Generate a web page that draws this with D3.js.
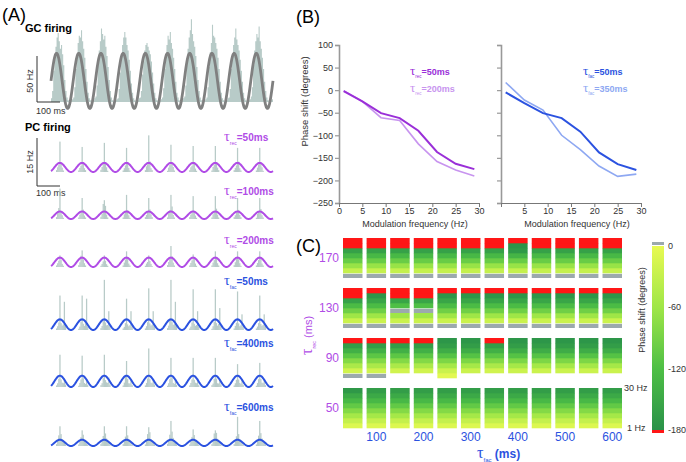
<!DOCTYPE html>
<html>
<head>
<meta charset="utf-8">
<script src="https://cdn.jsdelivr.net/npm/d3@7"></script>
<style>
  body { margin: 0; background: #fff; }
  svg { font-family: Arial, "Liberation Sans", Helvetica, sans-serif; }
</style>
</head>
<body>
<svg id="fig" width="686" height="462"></svg>
<script>
// ---------- data ----------
// GC firing histogram, 5 ms bins over 1 s (Hz)
const gcRate = [
  4,12,34,52,60,70,75,66,58,62,52,40,24,12,5,2,1,1,2,3,
  5,16,36,50,64,72,70,78,66,58,48,36,22,10,4,2,1,1,2,4,
  6,18,40,56,66,80,74,68,72,60,50,38,24,12,5,2,1,1,2,3,
  4,14,32,50,62,70,76,70,62,56,46,34,20,10,4,2,1,1,2,4,
  5,12,30,44,56,62,64,60,56,52,44,32,20,10,4,2,1,1,2,3,
  5,15,36,52,62,72,68,76,64,58,48,36,22,10,5,2,1,1,2,4,
  6,18,42,58,70,78,90,74,66,60,50,38,24,12,5,2,1,1,2,3,
  5,16,38,54,64,84,72,70,64,58,48,36,22,10,4,2,1,1,2,4,
  5,14,36,52,62,70,80,68,62,56,46,34,22,10,4,2,1,1,2,3,
  6,16,40,56,66,74,70,82,66,58,48,36,22,12,5,2,1,1,2,3
];
// PC firing: bins (5 ms) around each cycle's peak, one row per cycle (Hz)
const pcRec50 = [
  [0.6,1.5,2.2,9.7,2.8,1.4,0.5],[0.5,1.3,2.0,8.0,3.2,1.2,0.6],[0.7,1.6,2.5,9.3,2.6,1.5,0.4],
  [0.5,1.2,2.1,7.7,3.0,1.3,0.5],[0.6,1.8,2.4,11.7,3.4,1.2,0.6],[0.4,1.4,2.2,8.7,2.9,1.6,0.5],
  [0.6,1.5,2.0,8.3,3.1,1.1,0.4],[0.5,1.6,2.3,8.3,2.7,1.4,0.6],[0.6,1.3,2.1,7.7,3.3,1.2,0.5],
  [0.5,1.4,2.4,7.7,2.8,1.5,0.4]
];
const pcRec100 = [
  [0.6,1.8,3.5,9.7,2.4,1.2,0.4],[0.5,1.4,2.2,6.7,3.0,1.1,0.5],[0.7,1.6,4.8,6.0,4.2,1.4,0.5],
  [0.5,1.5,2.6,7.7,2.8,1.2,0.4],[0.6,1.3,2.3,6.7,3.1,1.5,0.6],[0.5,1.7,2.8,7.7,4.0,1.3,0.5],
  [0.6,1.4,2.1,7.3,2.6,1.1,0.4],[0.5,1.5,2.5,7.3,3.3,1.4,0.5],[0.6,1.2,2.2,6.7,2.9,1.3,0.6],
  [0.4,1.6,2.4,6.7,3.2,1.2,0.5]
];
const pcRec200 = [
  [0.5,1.2,2.0,3.7,2.2,1.0,0.4],[0.6,1.5,3.6,5.3,2.4,1.2,0.5],[0.4,1.0,1.8,3.7,2.0,0.9,0.4],
  [0.5,1.4,2.4,5.0,3.0,1.1,0.5],[0.4,1.1,1.6,3.7,1.9,1.0,0.3],[0.6,1.6,3.2,6.7,3.4,1.4,0.5],
  [0.5,1.3,2.1,4.0,2.6,1.1,0.4],[0.5,1.4,2.2,5.0,2.8,1.2,0.5],[0.6,1.5,2.6,5.0,2.5,1.2,0.4],
  [0.5,1.3,2.2,5.0,2.9,1.1,0.5]
];
const pcFac50 = [
  [0.5,1.2,2.4,11.0,2.2,1.4,1.8,9.0,1.2],[0.4,1.1,2.6,11.0,2.0,1.3,2.2,10.0,1.0],
  [0.6,1.3,2.8,16.0,2.4,1.5,1.6,6.0,1.2],[0.5,1.0,2.2,10.0,1.8,1.2,1.5,6.0,1.0],
  [0.5,1.2,2.5,13.3,2.1,1.4,1.7,6.0,1.1],[0.6,1.4,2.9,16.0,2.5,1.6,2.0,9.0,1.3],
  [0.5,1.1,2.4,13.0,2.0,1.3,1.6,6.0,1.0],[0.4,1.2,2.6,13.0,2.2,1.4,1.9,7.0,1.1],
  [0.5,1.3,2.3,12.3,2.1,1.2,1.5,5.0,1.0],[0.5,1.1,2.2,11.0,1.9,1.3,1.6,5.0,1.2]
];
const pcFac400 = [
  [0.5,1.2,2.6,10.3,2.4,1.4,1.2,2.8,0.8],[0.4,1.3,2.4,10.0,2.8,1.3,1.0,2.4,0.7],
  [0.6,1.2,2.8,10.3,2.2,1.5,1.3,3.0,0.8],[0.5,1.4,3.6,8.3,2.6,1.2,1.1,2.2,0.6],
  [0.5,1.3,2.7,12.3,2.5,1.4,1.2,2.6,0.8],[0.4,1.2,2.5,9.3,2.9,1.3,1.0,2.4,0.7],
  [0.5,1.3,2.4,9.3,2.3,1.4,1.2,2.8,0.6],[0.6,1.1,2.6,9.3,2.7,1.2,1.1,2.3,0.8],
  [0.5,1.2,2.3,7.3,2.4,1.3,1.0,2.5,0.7],[0.4,1.3,2.5,7.7,2.6,1.4,1.2,2.2,0.6]
];
const pcFac600 = [
  [0.6,1.6,3.4,6.3,3.8,2.2,1.4,1.0,0.5],[0.5,1.4,2.8,5.0,3.6,2.0,1.2,0.8,0.4],
  [0.7,1.8,3.2,6.3,4.0,2.4,1.5,1.0,0.5],[0.6,1.5,3.0,6.3,3.4,2.1,1.3,0.9,0.4],
  [0.5,1.6,3.8,6.0,4.4,2.2,1.4,1.0,0.5],[0.7,1.9,3.6,8.0,4.6,2.6,1.6,1.1,0.5],
  [0.5,1.4,2.9,5.3,3.5,2.0,1.3,0.9,0.4],[0.6,1.7,4.0,5.0,4.2,2.3,1.4,1.0,0.5],
  [0.6,1.5,3.1,9.3,3.8,2.1,1.3,0.9,0.4],[0.5,1.6,3.3,8.0,4.1,2.4,1.5,1.0,0.5]
];
// modulation sinusoids (Hz)
const gcSine = { mean: 23, amp: 30, peakMs: 25 };
const pcSineAmp = [1.45, 1.2, 1.5, 1.7, 1.8, 1.0];
const pcPeakMs = 40;

// panel B: phase shift vs modulation frequency
const modFreq = [1, 5, 9, 13, 17, 21, 25, 29];
const shiftRec50 = [-2, -25, -51, -62, -90, -137, -163, -175];
const shiftRec200 = [-1, -25, -61, -67, -119, -158, -177, -190];
const shiftFac50 = [-5, -29, -51, -62, -92, -138, -164, -177];
const shiftFac350 = [17, -22, -44, -100, -132, -168, -191, -186];
const yTicksB = [100, 50, 0, -50, -100, -150, -200, -250];
const xTicksB = [0, 5, 10, 15, 20, 25, 30];

// panel C: phase shift (deg) per block, cells 1 Hz -> 29 Hz
// > 0 grey, < -180 red, null = no value
const tauRec = [170, 130, 90, 50];
const tauFac = [50, 100, 150, 200, 250, 300, 350, 400, 450, 500, 550, 600];
const cellFreq = [1, 5, 9, 13, 17, 21, 25, 29];
const heat170 = [
  [8,-30,-65,-100,-130,-160,-195,-210],[8,-30,-65,-100,-130,-160,-195,-210],
  [8,-30,-65,-100,-130,-160,-195,-210],[8,-30,-65,-100,-130,-160,-195,-210],
  [8,-30,-65,-100,-130,-160,-195,-210],[8,-30,-65,-100,-130,-160,-195,-210],
  [8,-30,-65,-100,-130,-160,-195,-210],[8,-30,-65,-100,-135,-170,-178,-200],
  [8,-30,-65,-100,-130,-160,-195,-210],[8,-30,-65,-100,-130,-160,-195,-210],
  [8,-30,-65,-100,-130,-160,-195,-210],[8,-30,-65,-100,-130,-160,-195,-210]
];
const heat130 = [
  [8,-25,-60,-95,-125,-160,-190,-205],[8,-25,-60,-95,-125,-155,-175,-200],
  [8,-25,-60,5,-120,-155,-190,-205],[8,-25,-60,5,-120,-155,-190,-205],
  [8,-25,-60,-95,-125,-155,-175,-200],[8,-25,-60,-95,-125,-155,-175,-200],
  [8,-25,-60,-95,-125,-155,-175,-200],[8,-25,-60,-95,-125,-155,-175,-200],
  [8,-25,-60,-95,-125,-155,-175,-200],[8,-25,-60,-95,-125,-155,-175,-200],
  [8,-25,-60,-95,-125,-155,-175,-200],[8,-25,-60,-95,-125,-155,-175,-200]
];
const heat90 = [
  [8,-20,-50,-80,-110,-140,-165,-195],[8,-20,-50,-80,-110,-140,-165,-195],
  [null,-20,-50,-80,-110,-140,-165,-195],[null,-20,-50,-80,-110,-140,-165,-195],
  [-5,-25,-55,-85,-115,-145,-165,-175],[null,-25,-55,-85,-115,-145,-165,-175],
  [null,-20,-50,-80,-110,-140,-165,-195],[null,-25,-55,-85,-115,-145,-165,-175],
  [null,-25,-55,-85,-115,-145,-165,-175],[null,-25,-55,-85,-115,-145,-165,-175],
  [null,-25,-55,-85,-115,-145,-165,-175],[null,-25,-55,-85,-115,-145,-165,-175]
];
const heat50 = [
  [-10,-30,-55,-80,-105,-130,-150,-172],[-10,-30,-55,-80,-105,-130,-150,-165],
  [-10,-30,-55,-80,-105,-130,-150,-165],[-10,-30,-55,-80,-105,-130,-150,-165],
  [-10,-30,-55,-80,-105,-130,-150,-165],[-10,-30,-55,-80,-105,-130,-150,-165],
  [-10,-30,-55,-80,-105,-130,-150,-165],[-10,-30,-55,-80,-105,-130,-150,-165],
  [-10,-30,-55,-80,-105,-130,-150,-165],[-10,-30,-55,-80,-105,-130,-150,-165],
  [-10,-30,-55,-80,-105,-130,-150,-165],[-10,-30,-55,-80,-105,-130,-150,-165]
];
const colorTicks = [0, -60, -120, -180];

// ---------- colours ----------
const purple = "#b04ce6", purpleDark = "#9a2fd8", purpleLight = "#c894ef";
const blue = "#2b52e0", blueLight = "#8ea8f2";
const histFill = "#b8cbc8";
const redCell = "#ff1616", greyCell = "#9ca9ad";

const svg = d3.select("#fig");

// tau with subscript
function tauText(g, x, y, sub, rest, color, size, opts) {
  opts = opts || {};
  const t = g.append("text").attr("x", x).attr("y", y).attr("fill", color)
    .style("font-size", size + "px");
  if (opts.rotate) t.attr("transform", "rotate(-90," + x + "," + y + ")");
  if (opts.anchor) t.attr("text-anchor", opts.anchor);
  t.append("tspan").text("τ").style("font-family", "'Liberation Serif', 'DejaVu Serif', serif")
    .style("font-size", size * (opts.tauScale || 1.45) + "px");
  t.append("tspan").text(sub).attr("dy", size * 0.35).style("font-size", size * 0.5 + "px");
  t.append("tspan").text(rest).attr("dy", -size * 0.35)
    .style("font-weight", opts.bold === false ? "normal" : "bold");
  return t;
}

// ---------- panel A ----------
const gA = svg.append("g");
gA.append("text").attr("x", 2).attr("y", 21).style("font-size", "18px").text("(A)");
gA.append("text").attr("x", 25).attr("y", 32).style("font-size", "11px")
  .style("font-weight", "bold").text("GC firing");
gA.append("text").attr("x", 25).attr("y", 131).style("font-size", "11px")
  .style("font-weight", "bold").text("PC firing");

const binMs = 5;
const tx = d3.scaleLinear().domain([0, 1000]).range([51, 273]);
const gcY = d3.scaleLinear().domain([0, 50]).range([102, 56]);

gA.append("path")
  .datum(gcRate.concat([0]))
  .attr("d", d3.area().curve(d3.curveStepAfter)
    .x((d, i) => tx(i * binMs)).y0(gcY(0)).y1((d) => gcY(d)))
  .attr("fill", histFill);

const tSamples = d3.range(0, 1001, 2);
gA.append("path")
  .datum(tSamples)
  .attr("d", d3.line()
    .x((t) => tx(t))
    .y((t) => gcY(gcSine.mean + gcSine.amp * Math.cos(2 * Math.PI * (t - gcSine.peakMs) / 100))))
  .attr("fill", "none").attr("stroke", "#808080").attr("stroke-width", 2.8);

// scale bars
function scaleBar(y0, y1, lab, labY, msY) {
  gA.append("path").attr("d", `M37,${y0}V${y1}H60`).attr("fill", "none")
    .attr("stroke", "#333").attr("stroke-width", 1);
  gA.append("text").attr("transform", `translate(33,${labY}) rotate(-90)`)
    .attr("text-anchor", "middle").style("font-size", "9px").attr("fill", "#333").text(lab);
  gA.append("text").attr("x", 36).attr("y", msY).style("font-size", "9px")
    .attr("fill", "#333").text("100 ms");
}
scaleBar(56, 102, "50 Hz", 81, 114);
scaleBar(138, 186, "15 Hz", 162, 196);

const pcTraces = [
  { bins: pcRec50, color: purple, base: 172, sub: "rec", rest: "=50ms", ly: 141 },
  { bins: pcRec100, color: purple, base: 219, sub: "rec", rest: "=100ms", ly: 195 },
  { bins: pcRec200, color: purple, base: 267, sub: "rec", rest: "=200ms", ly: 244 },
  { bins: pcFac50, color: blue, base: 330, sub: "fac", rest: "=50ms", ly: 285 },
  { bins: pcFac400, color: blue, base: 387, sub: "fac", rest: "=400ms", ly: 347 },
  { bins: pcFac600, color: blue, base: 446, sub: "fac", rest: "=600ms", ly: 411 }
];

pcTraces.forEach((tr, ti) => {
  const y = d3.scaleLinear().domain([0, 15]).range([tr.base, tr.base - 47]);
  const g = gA.append("g");
  const rects = [];
  tr.bins.forEach((row, k) => {
    row.forEach((v, j) => {
      rects.push({ t: 100 * k + pcPeakMs - binMs / 2 + (j - 3) * binMs, v: v });
    });
  });
  g.selectAll("rect").data(rects).join("rect")
    .attr("x", (d) => tx(d.t))
    .attr("width", tx(binMs) - tx(0) + 0.15)
    .attr("y", (d) => y(d.v))
    .attr("height", (d) => y(0) - y(d.v))
    .attr("fill", histFill);
  const a = pcSineAmp[ti];
  g.append("path").datum(tSamples)
    .attr("d", d3.line().x((t) => tx(t))
      .y((t) => y(a + a * Math.cos(2 * Math.PI * (t - pcPeakMs) / 100))))
    .attr("fill", "none").attr("stroke", tr.color).attr("stroke-width", 2);
  tauText(gA, 224, tr.ly, tr.sub, tr.rest, tr.color, 10);
});

// ---------- panel B ----------
const gB = svg.append("g");
gB.append("text").attr("x", 296).attr("y", 23).style("font-size", "18px").text("(B)");
const py = d3.scaleLinear().domain([-250, 100]).range([203, 45]);

function phasePlot(x0, x1, showY, series, legend, legX) {
  const fx = d3.scaleLinear().domain([0, 30]).range([x0, x1]);
  const g = gB.append("g");
  const yAx = g.append("g").attr("transform", `translate(${x0},0)`)
    .call(d3.axisLeft(py).tickValues(yTicksB).tickSize(4).tickFormat(showY ? d3.format("d") : ""));
  yAx.select(".domain").attr("stroke", "#999").attr("stroke-width", 1.6);
  yAx.selectAll(".tick line").attr("stroke", "#999").attr("stroke-width", 1.2);
  yAx.selectAll(".tick text").attr("fill", "#333").style("font-size", "9px")
    .style("font-family", "Arial, 'Liberation Sans', sans-serif").attr("x", -6);
  const xAx = g.append("g").attr("transform", `translate(0,${py(-250)})`)
    .call(d3.axisBottom(fx).tickValues(xTicksB).tickSize(4).tickPadding(1)
      .tickFormat((d) => (!showY && d === 0) ? "" : d));
  xAx.select(".domain").attr("stroke", "#777").attr("stroke-width", 1);
  xAx.selectAll(".tick line").attr("stroke", "#777");
  xAx.selectAll(".tick text").attr("fill", "#333").style("font-size", "9px")
    .style("font-family", "Arial, 'Liberation Sans', sans-serif");
  g.append("text").attr("x", (x0 + x1) / 2 + 6).attr("y", 227).attr("text-anchor", "middle")
    .style("font-size", "9px").attr("fill", "#333").text("Modulation frequency (Hz)");
  const line = d3.line().x((d, i) => fx(modFreq[i])).y((d) => py(d));
  series.forEach((s) => {
    g.append("path").datum(s.values).attr("d", line).attr("fill", "none")
      .attr("stroke", s.color).attr("stroke-width", s.w);
  });
  legend.forEach((l, i) => {
    tauText(g, legX, 75 + i * 17, l.sub, l.rest, l.color, 9);
  });
}

phasePlot(339, 479, true,
  [{ values: shiftRec200, color: purpleLight, w: 1.6 }, { values: shiftRec50, color: purpleDark, w: 2 }],
  [{ sub: "rec", rest: "=50ms", color: purpleDark }, { sub: "rec", rest: "=200ms", color: purpleLight }], 410);
phasePlot(501, 641, false,
  [{ values: shiftFac350, color: blueLight, w: 1.6 }, { values: shiftFac50, color: blue, w: 2 }],
  [{ sub: "fac", rest: "=50ms", color: blue }, { sub: "fac", rest: "=350ms", color: blueLight }], 583);

gB.append("text").attr("transform", `translate(308,${py(-25)}) rotate(-90)`)
  .attr("text-anchor", "middle").style("font-size", "9.5px").attr("fill", "#333")
  .text("Phase shift (degrees)");

// ---------- panel C ----------
const gC = svg.append("g");
gC.append("text").attr("x", 296).attr("y", 252).style("font-size", "18px").text("(C)");

const colX = d3.scaleBand().domain(tauFac).range([343, 622]).paddingInner(0.174).paddingOuter(0);
const rowY = d3.scaleBand().domain(tauRec).range([238, 428]).paddingInner(0.2).paddingOuter(0);
const cellY = d3.scaleBand().domain(cellFreq.slice().reverse()).range([0, rowY.bandwidth()]);
const phaseColor = d3.scaleLinear().domain([-180, -120, -60, 0])
  .range(["#2a9249", "#4ebf45", "#9fe647", "#e8fa52"]);

const heatRows = [heat170, heat130, heat90, heat50];
const cells = [];
heatRows.forEach((rows, ri) => {
  rows.forEach((vals, ci) => {
    vals.forEach((v, fi) => {
      if (v === null) return;
      cells.push({ rec: tauRec[ri], fac: tauFac[ci], f: cellFreq[fi], v: v });
    });
  });
});
gC.selectAll("rect.cell").data(cells).join("rect")
  .attr("class", "cell")
  .attr("x", (d) => colX(d.fac))
  .attr("width", colX.bandwidth())
  .attr("y", (d) => rowY(d.rec) + cellY(d.f) + (d.v > 0 ? 0.8 : 0))
  .attr("height", (d) => cellY.bandwidth() + (d.v > 0 ? -0.8 : 0.3))
  .attr("fill", (d) => d.v > 0 ? greyCell : d.v < -180 ? redCell : phaseColor(d.v));

// row labels
gC.selectAll("text.rowlab").data(tauRec).join("text")
  .attr("class", "rowlab")
  .attr("x", 339).attr("y", (d) => rowY(d) + rowY.bandwidth() / 2 + 4)
  .attr("text-anchor", "end").style("font-size", "12px").attr("fill", purple)
  .text((d) => d);
// column labels
gC.selectAll("text.collab").data(tauFac.filter((d) => d % 100 === 0)).join("text")
  .attr("class", "collab")
  .attr("x", (d) => colX(d) + colX.bandwidth() / 2).attr("y", 441)
  .attr("text-anchor", "middle").style("font-size", "12px").attr("fill", blue)
  .text((d) => d);
tauText(gC, 477, 458, "fac", " (ms)", blue, 12, { tauScale: 1.35 });
tauText(gC, 312, 355, "rec", " (ms)", purple, 11, { rotate: true, bold: false });

// frequency hints
gC.append("text").attr("x", 624).attr("y", rowY(50) + 3).style("font-size", "9px")
  .attr("fill", "#333").text("30 Hz");
gC.append("text").attr("x", 627).attr("y", rowY(50) + rowY.bandwidth() + 3)
  .style("font-size", "9px").attr("fill", "#333").text("1 Hz");

// colour bar
const cbY = d3.scaleLinear().domain([0, -180]).range([246, 430]);
const defs = svg.append("defs");
const grad = defs.append("linearGradient").attr("id", "cbgrad")
  .attr("x1", 0).attr("y1", 0).attr("x2", 0).attr("y2", 1);
d3.range(0, -181, -20).forEach((v) => {
  grad.append("stop").attr("offset", (v / -180) * 100 + "%").attr("stop-color", phaseColor(v));
});
gC.append("rect").attr("x", 652).attr("y", cbY(0) - 4).attr("width", 12).attr("height", 3)
  .attr("fill", greyCell);
gC.append("rect").attr("x", 652).attr("y", cbY(0)).attr("width", 12)
  .attr("height", cbY(-180) - cbY(0)).attr("fill", "url(#cbgrad)");
gC.append("rect").attr("x", 652).attr("y", cbY(-180)).attr("width", 12).attr("height", 3)
  .attr("fill", redCell);
gC.selectAll("text.cbt").data(colorTicks).join("text")
  .attr("class", "cbt").attr("x", 668).attr("y", (d) => cbY(d) + 3)
  .style("font-size", "9px").attr("fill", "#333").text((d) => d);
gC.append("text").attr("transform", "translate(645,310) rotate(-90)")
  .attr("text-anchor", "middle").style("font-size", "9px").attr("fill", "#333")
  .text("Phase shift (degrees)");
</script>
</body>
</html>
